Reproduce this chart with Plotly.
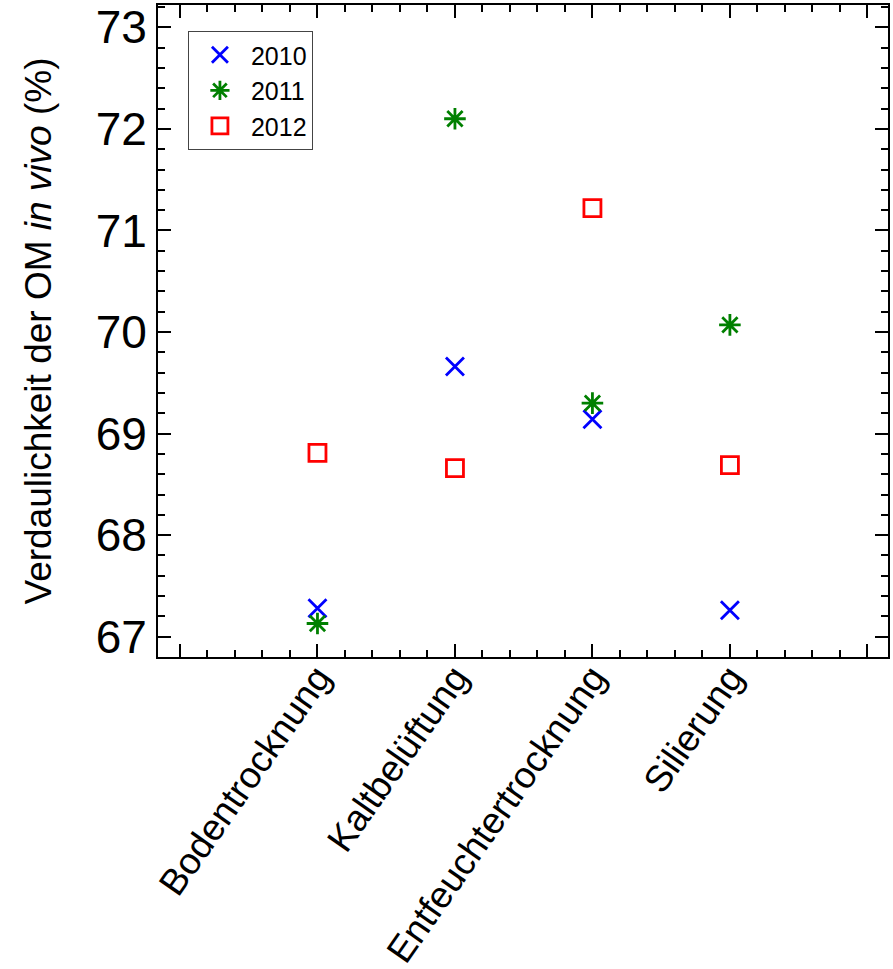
import plotly.graph_objects as go

categories = ["Bodentrocknung", "Kaltbelüftung", "Entfeuchtertrocknung", "Silierung"]
cat_pos = [1, 2, 3, 4]
years = ["2010", "2011", "2012"]
values_2010 = [67.28, 69.66, 69.14, 67.26]
values_2011 = [67.13, 72.10, 69.30, 70.07]
values_2012 = [68.81, 68.66, 71.22, 68.69]
y_ticks = [67, 68, 69, 70, 71, 72, 73]

FONT = "Liberation Sans, Arial, sans-serif"

fig = go.Figure()
fig.add_trace(go.Scatter(
    x=cat_pos, y=values_2010, mode="markers", name=years[0],
    marker=dict(symbol="x-thin", size=18, color="#0000FF",
                line=dict(color="#0000FF", width=2.8))))
fig.add_trace(go.Scatter(
    x=cat_pos, y=values_2011, mode="markers", name=years[1],
    marker=dict(symbol="asterisk-open", size=18, color="#008000",
                line=dict(color="#008000", width=2.8))))
fig.add_trace(go.Scatter(
    x=cat_pos, y=values_2012, mode="markers", name=years[2],
    marker=dict(symbol="square-open", size=17, color="#FF0000",
                line=dict(color="#FF0000", width=2.8))))

fig.update_layout(
    width=893, height=969,
    margin=dict(l=158, r=5, t=5, b=312, autoexpand=False),
    paper_bgcolor="white", plot_bgcolor="white",
    font=dict(family=FONT, color="black"),
    showlegend=True,
    legend=dict(
        x=0.041, y=0.96, xanchor="left", yanchor="top",
        bordercolor="#444", borderwidth=1, bgcolor="white",
        font=dict(size=25, family=FONT), itemwidth=52,
        tracegroupgap=0,
    ),
    xaxis=dict(
        range=[-0.16, 5.15],
        tickvals=[0, 1, 2, 3, 4, 5],
        ticktext=[""] + categories + [""],
        tickangle=-55,
        tickfont=dict(size=37, family=FONT),
        ticklabelstandoff=-18,
        ticks="inside", ticklen=13, tickwidth=1.5, tickcolor="black",
        showline=True, linecolor="black", linewidth=2, mirror="ticks",
        showgrid=False, zeroline=False, automargin=False,
        minor=dict(ticks="inside", ticklen=7, tickwidth=1.5, tickcolor="black",
                   dtick=0.2, tick0=0, showgrid=False),
    ),
    yaxis=dict(
        range=[66.8, 73.22],
        tickvals=y_ticks,
        ticktext=[str(t) for t in y_ticks],
        tickfont=dict(size=46, family=FONT),
        ticks="inside", ticklen=13, tickwidth=1.5, tickcolor="black",
        showline=True, linecolor="black", linewidth=2, mirror="ticks",
        showgrid=False, zeroline=False, automargin=False,
        minor=dict(ticks="inside", ticklen=7, tickwidth=1.5, tickcolor="black",
                   dtick=0.2, tick0=67, showgrid=False),
        title=dict(text="Verdaulichkeit der OM <i>in vivo</i> (%)",
                   font=dict(size=37, family=FONT), standoff=33),
    ),
)

fig.write_html("out.html", config={"displayModeBar": False},
               post_script="document.body.style.margin='0';")
